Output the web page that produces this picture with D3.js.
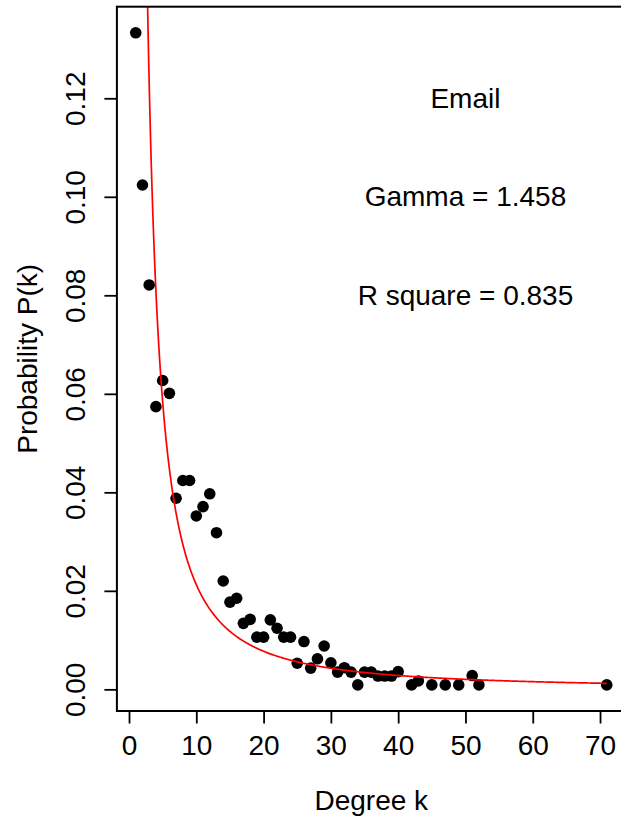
<!DOCTYPE html>
<html>
<head>
<meta charset="utf-8">
<script src="https://cdn.jsdelivr.net/npm/d3@7"></script>
<style>
  html, body { margin: 0; padding: 0; background: #fff; }
  svg { display: block; }
  text { font-family: "Liberation Sans", Arial, Helvetica, sans-serif; fill: #000; }
</style>
</head>
<body>
<svg id="chart" width="621" height="820"></svg>
<script>
// ---- data ----
const degreeK = [1,2,3,4,5,6,7,8,9,10,11,12,13,14,15,16,17,18,19,20,
                 21,22,23,24,25,26,27,28,29,30,31,32,33,34,35,36,37,38,39,40,
                 42,43,45,47,49,51,52,71];
const probability = [0.1333,0.1024,0.0821,0.0574,0.0627,0.0601,0.0388,0.0424,0.0424,0.0352,
                     0.0371,0.0397,0.0318,0.0220,0.0177,0.0185,0.0134,0.0142,0.0106,0.0106,
                     0.0141,0.0124,0.0106,0.0106,0.0053,0.0097,0.0043,0.0062,0.0088,0.0054,
                     0.0035,0.0044,0.0035,0.0009,0.0035,0.0035,0.0027,0.0027,0.0027,0.0036,
                     0.0009,0.0017,0.0009,0.0009,0.0009,0.0028,0.0009,0.0009];
const fitGamma = 1.458;     // fitted exponent shown on the chart
const fitCoef = 0.61;       // fitted coefficient of P(k) = c * k^-gamma
const xTicks = [0,10,20,30,40,50,60,70];
const yTicks = [0,0.02,0.04,0.06,0.08,0.10,0.12];
const annotations = ["Email", "Gamma = 1.458", "R square = 0.835"];
const annotationX = 50;
const annotationY = [0.12, 0.10, 0.08];
const xTitle = "Degree k";
const yTitle = "Probability P(k)";

// ---- layout ----
const svg = d3.select("#chart");
const plotL = 116.9, plotR = 625.6, plotT = 6.7, plotB = 711;
const fontSize = 28;

// R-style 4% axis extension
const [xmin, xmax] = d3.extent(degreeK);
const [ymin, ymax] = d3.extent(probability);
const xe = (xmax - xmin) * 0.04, ye = (ymax - ymin) * 0.04;
const x = d3.scaleLinear().domain([xmin - xe, xmax + xe]).range([plotL, plotR]);
const y = d3.scaleLinear().domain([ymin - ye, ymax + ye]).range([plotB, plotT]);

svg.append("defs").append("clipPath").attr("id", "plotclip")
  .append("rect").attr("x", plotL).attr("y", plotT)
  .attr("width", plotR - plotL).attr("height", plotB - plotT);

// points
svg.append("g").selectAll("circle")
  .data(degreeK.map((k, i) => ({k, p: probability[i]})))
  .join("circle")
  .attr("cx", d => x(d.k)).attr("cy", d => y(d.p))
  .attr("r", 5.8).attr("fill", "#000");

// fitted power-law curve
const curveK = d3.range(1, 71.001, 0.1);
const line = d3.line().x(k => x(k)).y(k => y(fitCoef * Math.pow(k, -fitGamma)));
svg.append("path").datum(curveK)
  .attr("d", line).attr("fill", "none")
  .attr("stroke", "#ff0000").attr("stroke-width", 1.7)
  .attr("clip-path", "url(#plotclip)");

// box
svg.append("rect").attr("x", plotL).attr("y", plotT)
  .attr("width", plotR - plotL).attr("height", plotB - plotT)
  .attr("fill", "none").attr("stroke", "#000").attr("stroke-width", 2);

// x axis
const xa = svg.append("g").attr("transform", `translate(0,${plotB})`)
  .call(d3.axisBottom(x).tickValues(xTicks).tickSize(12.5).tickFormat(d3.format("d")));
xa.select(".domain").remove();
xa.selectAll(".tick line").attr("stroke", "#000").attr("stroke-width", 1.8);
xa.selectAll(".tick text").attr("y", 44).attr("dy", null)
  .attr("font-size", fontSize).attr("font-family", "Liberation Sans, Arial, sans-serif")
  .attr("fill", "#000");

// y axis
const ya = svg.append("g").attr("transform", `translate(${plotL},0)`)
  .call(d3.axisLeft(y).tickValues(yTicks).tickSize(12.5).tickFormat(d3.format(".2f")));
ya.select(".domain").remove();
ya.selectAll(".tick line").attr("stroke", "#000").attr("stroke-width", 1.8);
ya.selectAll(".tick text")
  .attr("x", null).attr("y", null).attr("dy", null)
  .attr("text-anchor", "middle")
  .attr("transform", "translate(-32,0) rotate(-90)")
  .attr("font-size", fontSize).attr("font-family", "Liberation Sans, Arial, sans-serif")
  .attr("fill", "#000");

// axis titles
svg.append("text").attr("x", (plotL + plotR) / 2).attr("y", 810)
  .attr("text-anchor", "middle").attr("font-size", fontSize).text(xTitle);
svg.append("text")
  .attr("transform", `translate(37,${(plotT + plotB) / 2}) rotate(-90)`)
  .attr("text-anchor", "middle").attr("font-size", fontSize).text(yTitle);

// annotations
svg.append("g").selectAll("text")
  .data(annotations)
  .join("text")
  .attr("x", annotationX === undefined ? 0 : x(annotationX))
  .attr("y", (d, i) => y(annotationY[i]) + 9.5)
  .attr("text-anchor", "middle").attr("font-size", fontSize)
  .text(d => d);
</script>
</body>
</html>
